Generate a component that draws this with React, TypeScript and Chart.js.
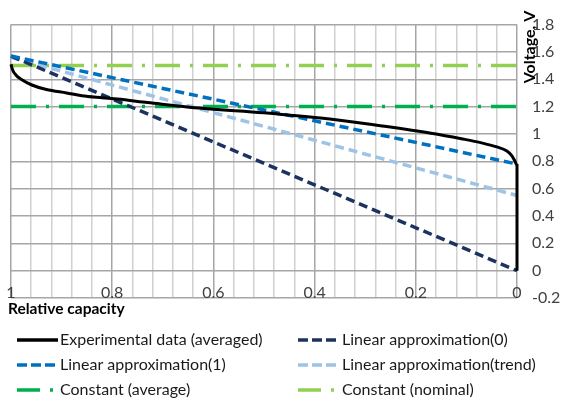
import React, { useEffect, useRef } from "react";
import { Chart, registerables } from "chart.js";

Chart.register(...registerables);

// Experimental data (averaged): relative capacity vs voltage
const EXP_X = [1.0, 0.997, 0.99, 0.98, 0.96, 0.93, 0.89, 0.86, 0.82, 0.79, 0.73, 0.63, 0.5, 0.47, 0.37, 0.27, 0.17, 0.11, 0.07, 0.04, 0.02, 0.01, 0.004, 0.0, 0.0];
const EXP_Y = [1.51, 1.47, 1.43, 1.40, 1.36, 1.325, 1.30, 1.28, 1.265, 1.255, 1.23, 1.19, 1.155, 1.145, 1.11, 1.06, 1.005, 0.965, 0.935, 0.905, 0.875, 0.84, 0.80, 0.77, 0.0];

const LIN0_X = [1, 0];
const LIN0_Y = [1.57, 0];
const LIN1_X = [1, 0];
const LIN1_Y = [1.57, 0.78];
const TREND_X = [1, 0];
const TREND_Y = [1.56, 0.55];
const AVG_X = [1, 0];
const AVG_Y = [1.2, 1.2];
const NOM_X = [1, 0];
const NOM_Y = [1.5, 1.5];

const X_TICKS = [1, 0.8, 0.6, 0.4, 0.2, 0];
const X_TICK_LABELS = ["1", "0.8", "0.6", "0.4", "0.2", "0"];
const X_TITLE = "Relative capacity";
const Y_TITLE = "Voltage, V";

const LABELS = [
  "Experimental data (averaged)",
  "Linear approximation(0)",
  "Linear approximation(1)",
  "Linear approximation(trend)",
  "Constant (average)",
  "Constant (nominal)",
];

const FONT = 'Lato, "Open Sans", sans-serif';

const pts = (xs: number[], ys: number[]) => xs.map((x, i) => ({ x, y: ys[i] }));

export default function App() {
  const ref = useRef<HTMLCanvasElement | null>(null);

  useEffect(() => {
    document.body.style.margin = "0";
    const canvas = ref.current;
    if (!canvas) return;

    const styles = [
      { color: "#000000", dash: [] as number[], width: 3 },
      { color: "#1c3360", dash: [9, 5], width: 3.5 },
      { color: "#0070c0", dash: [9, 5], width: 3.5 },
      { color: "#9dc3e6", dash: [9, 5], width: 3.5 },
      { color: "#00b050", dash: [25, 10, 3, 10], width: 3.5 },
      { color: "#92d050", dash: [25, 10, 3, 10], width: 3.5 },
    ];
    const series = [
      pts(EXP_X, EXP_Y),
      pts(LIN0_X, LIN0_Y),
      pts(LIN1_X, LIN1_Y),
      pts(TREND_X, TREND_Y),
      pts(AVG_X, AVG_Y),
      pts(NOM_X, NOM_Y),
    ];
    const drawOrder = [0, 2, 1, 3, 4, 5];

    const extras = {
      id: "extras",
      afterDraw(chart: any) {
        const ctx = chart.ctx as CanvasRenderingContext2D;
        const xs = chart.scales.x;
        ctx.save();
        ctx.fillStyle = "#404040";
        ctx.font = `16px ${FONT}`;
        ctx.textAlign = "center";
        ctx.textBaseline = "middle";
        X_TICKS.forEach((v, i) => {
          ctx.fillText(X_TICK_LABELS[i], xs.getPixelForValue(v), 293);
        });
        ctx.fillStyle = "#000";
        ctx.font = `bold 15.5px ${FONT}`;
        ctx.textAlign = "left";
        ctx.fillText(X_TITLE, 8, 309);
        ctx.save();
        ctx.translate(530, 47);
        ctx.rotate(-Math.PI / 2);
        ctx.textAlign = "center";
        ctx.font = `bold 16px ${FONT}`;
        ctx.fillText(Y_TITLE, 0, 0);
        ctx.restore();

        // legend
        const slots = [
          { x0: 17, x1: 58, tx: 60, y: 340 },
          { x0: 298, x1: 338, tx: 342, y: 340 },
          { x0: 17, x1: 58, tx: 60, y: 365 },
          { x0: 298, x1: 338, tx: 342, y: 365 },
          { x0: 17, x1: 58, tx: 60, y: 390 },
          { x0: 298, x1: 338, tx: 342, y: 390 },
        ];
        ctx.font = `16px ${FONT}`;
        ctx.textAlign = "left";
        ctx.textBaseline = "middle";
        slots.forEach((s, i) => {
          const st = styles[i];
          ctx.beginPath();
          ctx.strokeStyle = st.color;
          ctx.lineWidth = 3.5;
          ctx.setLineDash(i >= 4 ? [23, 10, 3, 10] : st.dash.length ? [10, 4] : []);
          ctx.moveTo(s.x0, s.y);
          ctx.lineTo(s.x1, s.y);
          ctx.stroke();
          ctx.setLineDash([]);
          ctx.fillStyle = "#1a1a1a";
          ctx.fillText(LABELS[i], s.tx, s.y);
        });
        ctx.restore();
      },
    };

    const isMajor = (v: number) => Math.abs(v * 5 - Math.round(v * 5)) < 1e-6;

    const chart = new Chart(canvas, {
      type: "line",
      data: {
        datasets: series.map((data, i) => ({
          label: LABELS[i],
          data,
          borderColor: styles[i].color,
          backgroundColor: styles[i].color,
          borderWidth: styles[i].width,
          borderDash: styles[i].dash,
          borderCapStyle: "butt",
          pointRadius: 0,
          tension: 0,
          cubicInterpolationMode: i === 0 ? "monotone" : "default",
          fill: false,
          clip: false,
          order: drawOrder[i],
        })),
      },
      options: {
        animation: false,
        responsive: false,
        maintainAspectRatio: false,
        layout: { padding: { left: 11, top: 16, bottom: 105, right: 0 } },
        plugins: { legend: { display: false }, tooltip: { enabled: false } },
        scales: {
          x: {
            type: "linear",
            reverse: true,
            min: 0,
            max: 1,
            ticks: { display: false, stepSize: 0.04 },
            grid: {
              drawTicks: false,
              color: (c: any) => (isMajor(c.tick.value) ? "#a6a6a6" : "#d0d0d0"),
              lineWidth: 1.5,
            },
            border: { display: false },
            afterFit: (s: any) => {
              s.height = 0;
            },
          },
          y: {
            type: "linear",
            position: "right",
            min: -0.2,
            max: 1.8,
            ticks: {
              stepSize: 0.2,
              padding: 15,
              color: "#404040",
              font: { family: FONT, size: 16 },
              callback: (v: any) => String(Number(Number(v).toFixed(1))),
            },
            grid: { drawTicks: false, color: "#a6a6a6", lineWidth: 1.5 },
            border: { display: false },
            afterFit: (s: any) => {
              s.width = 44;
            },
          },
        },
      },
      plugins: [extras],
    } as any);

    return () => chart.destroy();
  }, []);

  return (
    <div style={{ width: 561, height: 403, background: "#fff" }}>
      <canvas ref={ref} width={561} height={403} style={{ display: "block" }} />
    </div>
  );
}
